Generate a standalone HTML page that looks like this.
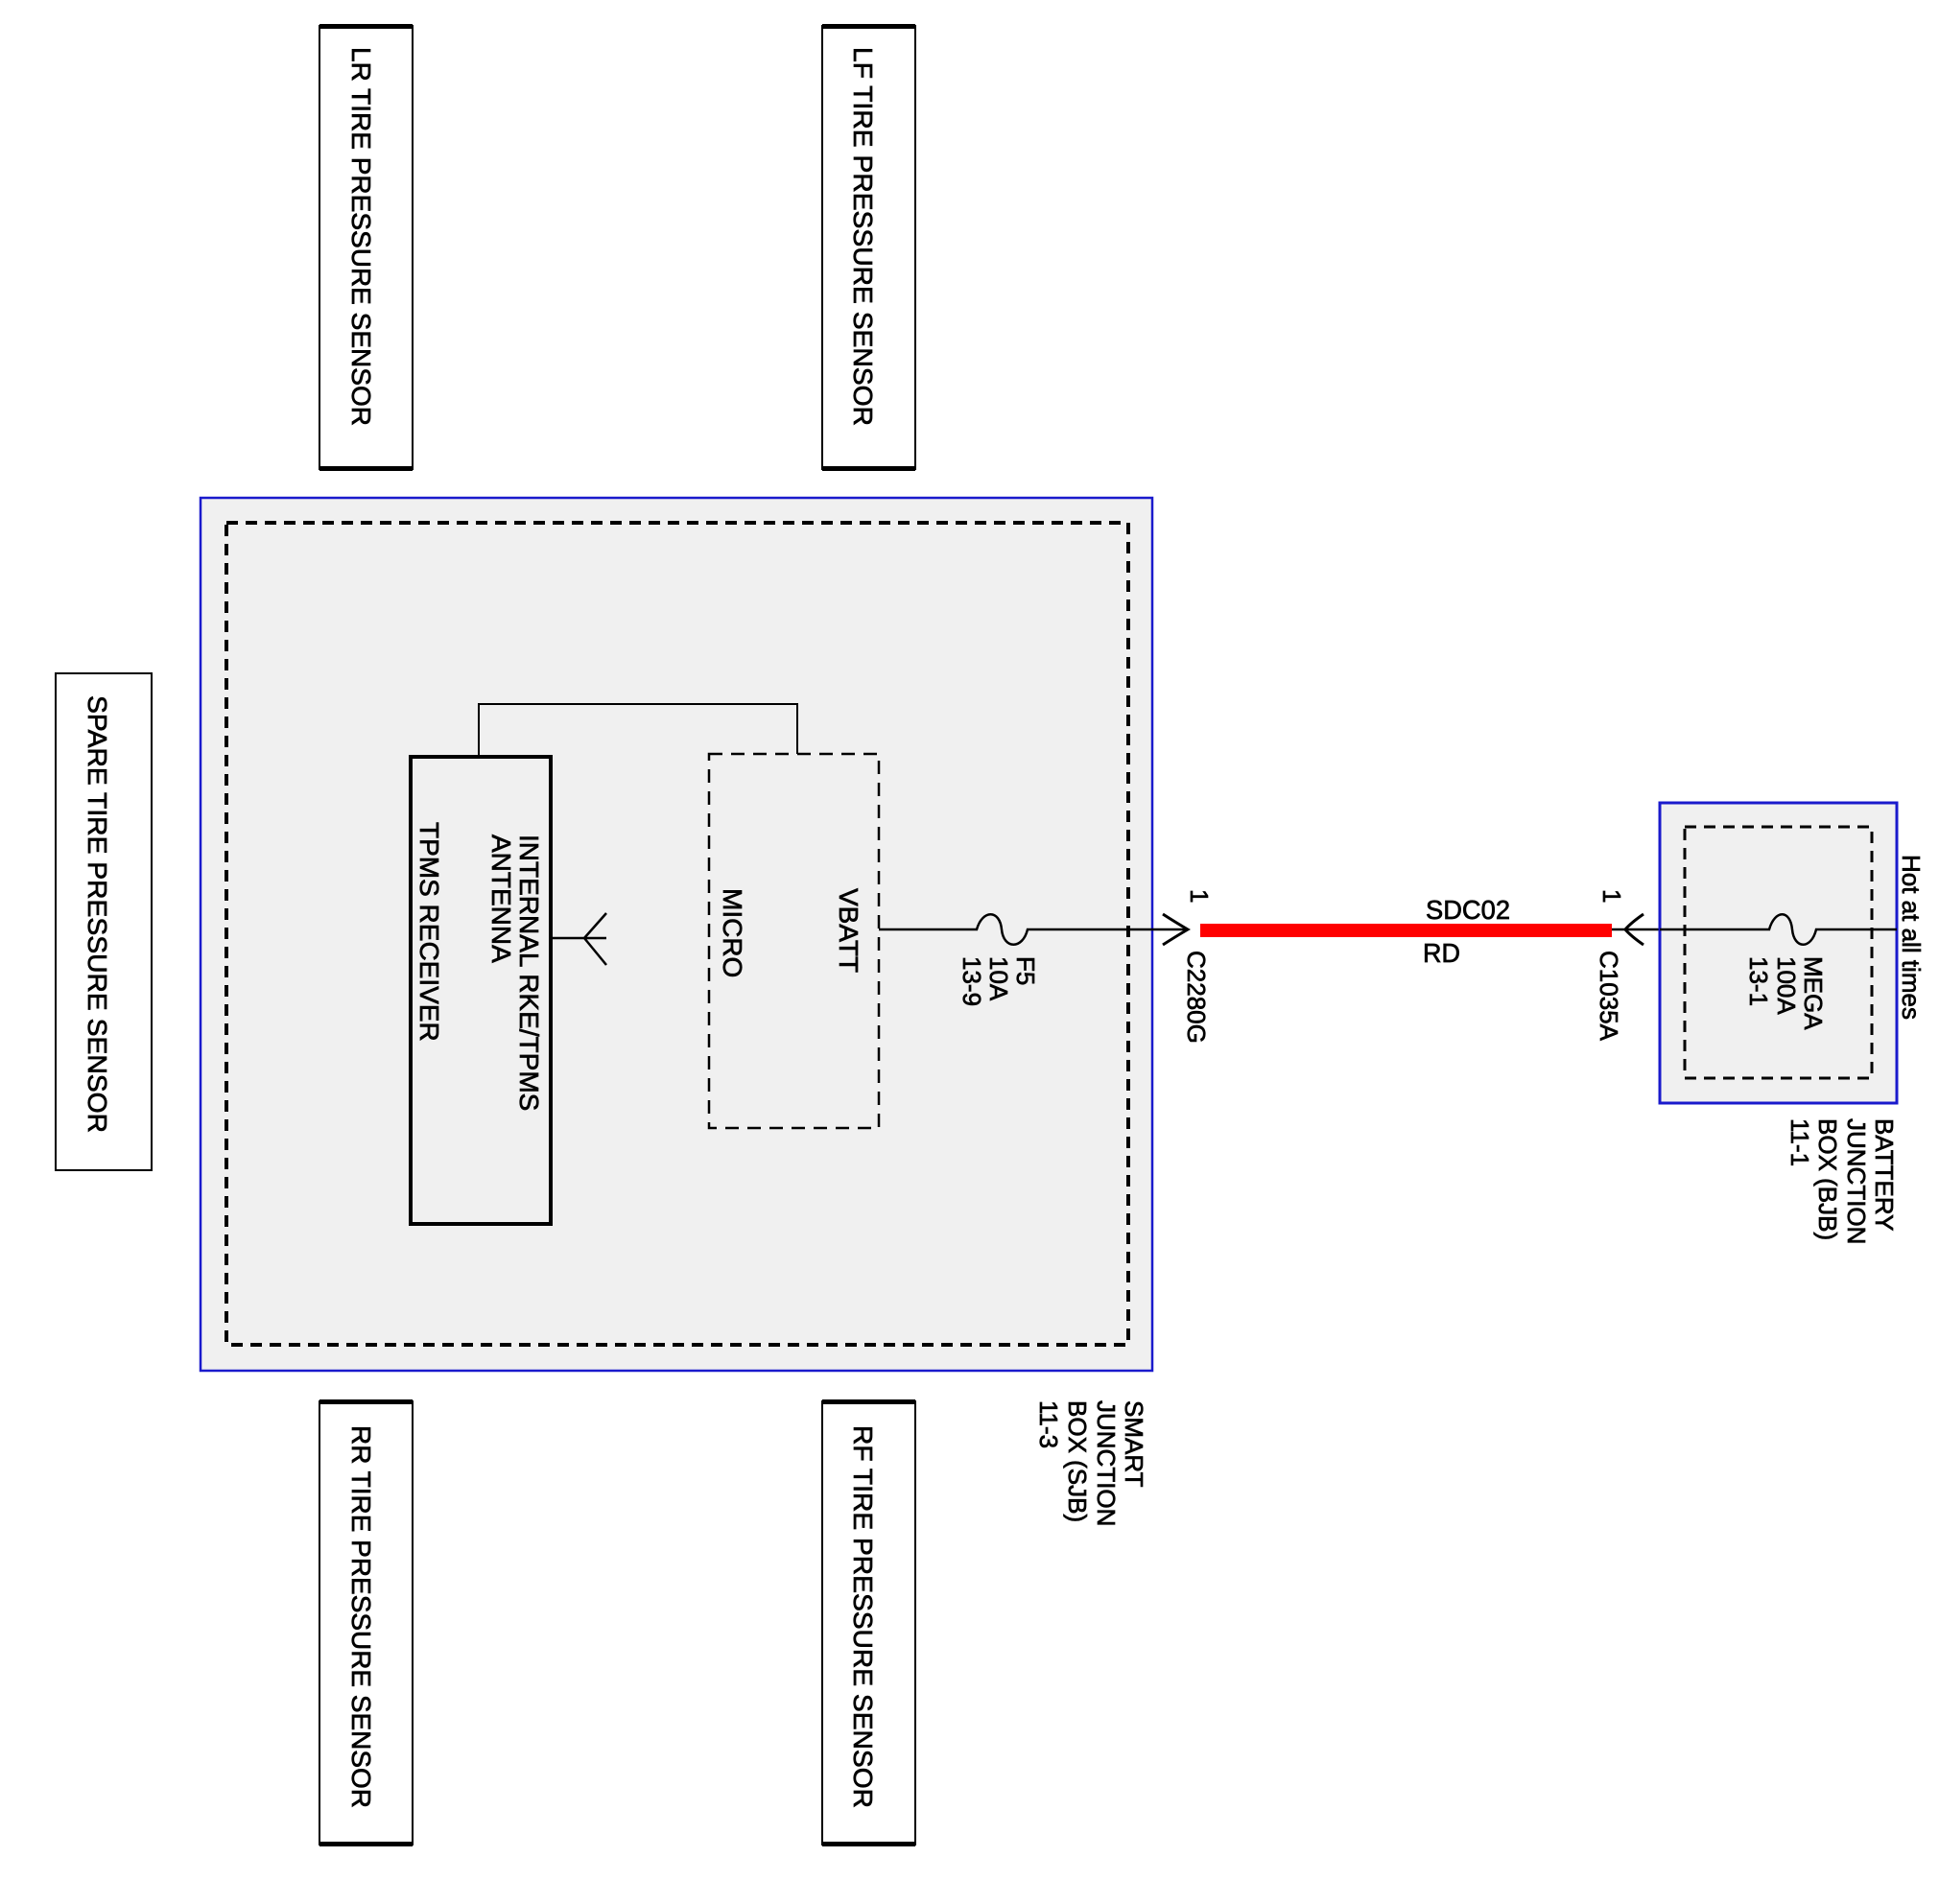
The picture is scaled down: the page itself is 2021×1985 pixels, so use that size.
<!DOCTYPE html>
<html><head><style>
html,body{margin:0;padding:0;background:#fff;}
svg{display:block;}
text{font-family:"Liberation Sans",Arial,sans-serif;fill:#000;stroke:#000;stroke-width:0.7;}
</style></head><body>
<svg width="2021" height="1985" viewBox="0 0 2021 1985" xmlns="http://www.w3.org/2000/svg">
<rect width="2021" height="1985" fill="#fff"/>
<g fill="#fff" stroke="#000" stroke-width="2">
<rect x="333" y="27" width="97" height="462"/>
<rect x="857" y="27" width="97" height="462"/>
<rect x="58" y="702" width="100" height="518"/>
<rect x="333" y="1461" width="97" height="462"/>
<rect x="857" y="1461" width="97" height="462"/>
</g>
<g fill="#000">
<rect x="333" y="25" width="97" height="5"/><rect x="333" y="486" width="97" height="5"/>
<rect x="857" y="25" width="97" height="5"/><rect x="857" y="486" width="97" height="5"/>
<rect x="333" y="1459" width="97" height="5"/><rect x="333" y="1920" width="97" height="5"/>
<rect x="857" y="1459" width="97" height="5"/><rect x="857" y="1920" width="97" height="5"/>
</g>
<g font-size="28">
<text transform="translate(367,49) rotate(90)" textLength="395" lengthAdjust="spacingAndGlyphs">LR TIRE PRESSURE SENSOR</text>
<text transform="translate(890,49) rotate(90)" textLength="395" lengthAdjust="spacingAndGlyphs">LF TIRE PRESSURE SENSOR</text>
<text transform="translate(92,725) rotate(90)" textLength="456" lengthAdjust="spacingAndGlyphs">SPARE TIRE PRESSURE SENSOR</text>
<text transform="translate(367,1486) rotate(90)" textLength="399" lengthAdjust="spacingAndGlyphs">RR TIRE PRESSURE SENSOR</text>
<text transform="translate(890,1486) rotate(90)" textLength="399" lengthAdjust="spacingAndGlyphs">RF TIRE PRESSURE SENSOR</text>
</g>
<rect x="209" y="519" width="992" height="910" fill="#f0f0f0" stroke="#1a1acc" stroke-width="2.5"/>
<rect x="236" y="545" width="940" height="857" fill="none" stroke="#000" stroke-width="4" stroke-dasharray="12,8"/>
<rect x="428" y="789" width="146" height="487" fill="#f0f0f0" stroke="#000" stroke-width="4"/>
<rect x="739" y="786" width="177" height="390" fill="none" stroke="#000" stroke-width="2.5" stroke-dasharray="14,9"/>
<path d="M499 789 V734 H831 V786" fill="none" stroke="#000" stroke-width="2"/>
<path d="M574 978 H632 M609 978 L632 952 M609 978 L632 1006" fill="none" stroke="#000" stroke-width="2.5"/>
<g font-size="28">
<text transform="translate(542,870) rotate(90)">INTERNAL RKE/TPMS</text>
<text transform="translate(513,870) rotate(90)">ANTENNA</text>
<text transform="translate(438,857) rotate(90)">TPMS RECEIVER</text>
<text transform="translate(754,926) rotate(90)">MICRO</text>
<text transform="translate(875,926) rotate(90)">VBATT</text>
</g>
<path d="M916 969 H1018 C1024 948 1042 948 1044 969 C1046 990 1066 990 1071 969 H1237" fill="none" stroke="#000" stroke-width="2.5"/>
<path d="M1212 953 Q1226 962 1238 969 Q1226 976 1212 985" fill="none" stroke="#000" stroke-width="3"/>
<rect x="1251" y="963" width="429" height="14" fill="#f00"/>
<path d="M1680 969 H1976" fill="none" stroke="#000" stroke-width="2.5"/>
<path d="M1713 953 Q1700 962 1694 969 Q1700 976 1713 985" fill="none" stroke="#000" stroke-width="3"/>
<g font-size="26">
<text transform="translate(1060,997) rotate(90)">F5</text>
<text transform="translate(1032,997) rotate(90)">10A</text>
<text transform="translate(1004,997) rotate(90)">13-9</text>
<text transform="translate(1241,927) rotate(90)">1</text>
<text transform="translate(1238,991) rotate(90)">C2280G</text>
<text transform="translate(1671,927) rotate(90)">1</text>
<text transform="translate(1668,991) rotate(90)">C1035A</text>
<text x="1486" y="958" textLength="88" lengthAdjust="spacingAndGlyphs" font-size="28">SDC02</text>
<text x="1483" y="1003" textLength="39" lengthAdjust="spacingAndGlyphs" font-size="28">RD</text>
</g>
<rect x="1730" y="837" width="247" height="313" fill="#f0f0f0" stroke="#1a1acc" stroke-width="3"/>
<rect x="1756" y="862" width="195" height="262" fill="none" stroke="#000" stroke-width="3" stroke-dasharray="12,8"/>
<path d="M1730 969 H1844 C1850 948 1866 948 1868 969 C1870 990 1888 990 1893 969 H1977" fill="none" stroke="#000" stroke-width="2.5"/>
<g font-size="26">
<text transform="translate(1881,997) rotate(90)">MEGA</text>
<text transform="translate(1853,997) rotate(90)">100A</text>
<text transform="translate(1824,997) rotate(90)">13-1</text>
<text transform="translate(1983,891) rotate(90)">Hot at all times</text>
<text transform="translate(1955,1166) rotate(90)">BATTERY</text>
<text transform="translate(1926,1166) rotate(90)">JUNCTION</text>
<text transform="translate(1896,1166) rotate(90)">BOX (BJB)</text>
<text transform="translate(1867,1166) rotate(90)">11-1</text>
<text transform="translate(1173,1460) rotate(90)">SMART</text>
<text transform="translate(1144,1460) rotate(90)">JUNCTION</text>
<text transform="translate(1114,1460) rotate(90)">BOX (SJB)</text>
<text transform="translate(1084,1460) rotate(90)">11-3</text>
</g>
</svg>
</body></html>
